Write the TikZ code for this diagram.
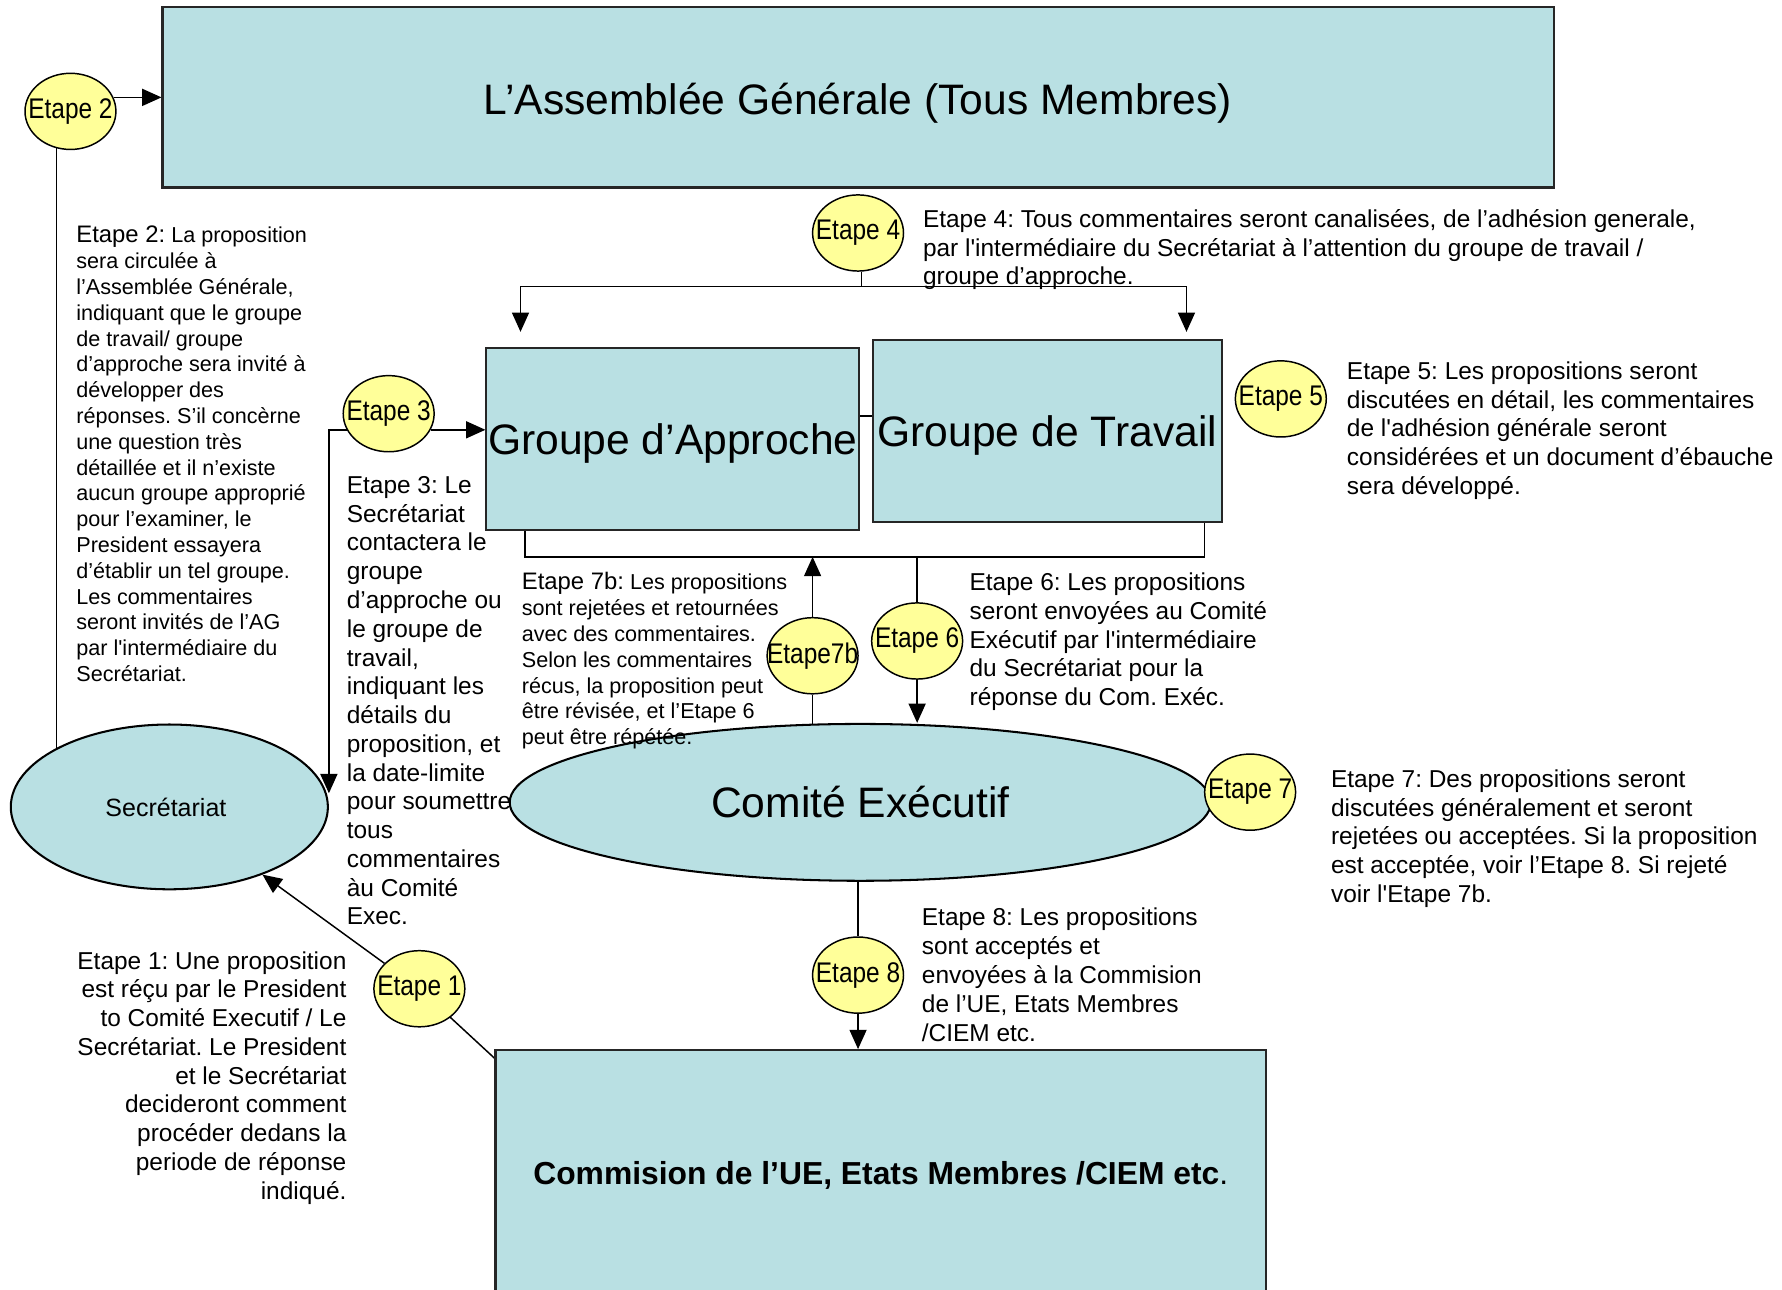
\documentclass[tikz,border=0pt]{standalone}
\usepackage{fontspec}
\setmainfont{Liberation Sans}
\newfontfamily\circfont[FakeStretch=0.86]{Liberation Sans}
\usetikzlibrary{shapes.geometric,arrows.meta}
\definecolor{boxblue}{RGB}{185,224,227}
\definecolor{stepyellow}{RGB}{255,255,153}
\newcommand{\apos}{\textquotesingle}
\frenchspacing
\pgfdeclarelayer{bg}
\pgfdeclarelayer{paper}
\pgfsetlayers{paper,bg,main}
\begin{document}
\begin{tikzpicture}[x=1pt,y=-1pt,
  bluebox/.style={rectangle, draw=black!85, line width=1.8pt, fill=boxblue, inner sep=0pt},
  blueell/.style={ellipse, draw=black, line width=1.8pt, fill=boxblue, inner sep=0pt},
  stepc/.style={ellipse, draw=black, line width=1.3pt, fill=stepyellow, minimum width=80pt, minimum height=67pt, inner xsep=-14pt, inner ysep=0pt, font=\circfont\fontsize{25}{25}\selectfont},
  con/.style={line width=1.3pt, draw=black},
  arr/.style={con, -{Triangle[length=17pt,width=15pt]}},
  body/.style={inner sep=0pt, align=left, font=\fontsize{21.5}{25.3}\selectfont},
  small/.style={inner sep=0pt, align=left, font=\fontsize{19}{22.7}\selectfont},
  big/.style={inner sep=0pt, font=\fontsize{37.5}{40}\selectfont}
]
\begin{pgfonlayer}{paper}
\fill[white] (0,0) rectangle (1568,1135);
\end{pgfonlayer}
\useasboundingbox (0,0) rectangle (1568,1135);

% main boxes and ellipses
\node[bluebox, minimum width=1224pt, minimum height=159pt] (ag) at (755,85.5) {};
\node[big, anchor=base] (agt) at (755,101) {L’Assemblée Générale (Tous Membres)};

\node[blueell, minimum width=279pt, minimum height=145pt] (sec) at (149,710) {};
\node[inner sep=0pt, anchor=base, font=\fontsize{22}{24}\selectfont] (sect) at (146,718) {Secrétariat};

\node[bluebox, minimum width=328pt, minimum height=160pt] (ga) at (592,386) {};
\node[big, anchor=base] (gat) at (592,400) {Groupe d’Approche};

\node[bluebox, minimum width=307pt, minimum height=160pt] (gt) at (921.5,379) {};
\node[big, anchor=base] (gtt) at (921.5,393) {Groupe de Travail};

\node[blueell, minimum width=617pt, minimum height=138pt] (ce) at (757,706) {};
\node[big, anchor=base] (cet) at (757,719.5) {Comité Exécutif};

\node[bluebox, minimum width=678pt, minimum height=236pt] (com) at (775,1042) {};
\node[inner sep=0pt, anchor=base, font=\fontsize{28}{30}\selectfont] (comt) at (775,1042) {{\bfseries Commision de l’UE, Etats Membres /CIEM etc}.};

% step circles
\node[stepc] (e2) at (62,98) {Etape 2};
\node[stepc] (e3) at (342,364) {Etape 3};
\node[stepc] (e4) at (755,205) {Etape 4};
\node[stepc] (e5) at (1127,351) {Etape 5};
\node[stepc] (e7b) at (715,577) {Etape7b};
\node[stepc] (e6) at (807,564) {Etape 6};
\node[stepc] (e7) at (1100,697) {Etape 7};
\node[stepc] (e8) at (755,858) {Etape 8};
\node[stepc] (e1) at (369,870) {Etape 1};

% texts
\node[small, anchor=north west] (t2) at (67,198.8) {{\fontsize{21}{22.7}\selectfont Etape 2:} La proposition\\sera circulée à\\l’Assemblée Générale,\\indiquant que le groupe\\de travail/ groupe\\d’approche sera invité à\\développer des\\réponses. S’il concèrne\\une question très\\détaillée et il n’existe\\aucun groupe approprié\\pour l’examiner, le\\President essayera\\d’établir un tel groupe.\\Les commentaires\\seront invités de l’AG\\par l\apos intermédiaire du\\Secrétariat.};

\node[body, anchor=north west] (t3) at (305,419) {Etape 3: Le\\Secrétariat\\contactera le\\groupe\\d’approche ou\\le groupe de\\travail,\\indiquant les\\détails du\\proposition, et\\la date-limite\\pour soumettre\\tous\\commentaires\\àu Comité\\Exec.};

\node[body, anchor=north west] (t4) at (812,184) {Etape 4: Tous commentaires seront canalisées, de l’adhésion generale,\\par l\apos intermédiaire du Secrétariat à l’attention du groupe de travail /\\groupe d’approche.};

\node[body, anchor=north west] (t5) at (1185,318) {Etape 5: Les propositions seront\\discutées en détail, les commentaires\\de l\apos adhésion générale seront\\considérées et un document d’ébauche\\sera développé.};

\node[small, anchor=north west] (t7b) at (459,503.7) {{\fontsize{21}{22.7}\selectfont Etape 7b:} Les propositions\\sont rejetées et retournées\\avec des commentaires.\\Selon les commentaires\\récus, la proposition peut\\être révisée, et l’Etape 6\\peut être répétée.};

\node[body, anchor=north west] (t6) at (853,504) {Etape 6: Les propositions\\seront envoyées au Comité\\Exécutif par l\apos intermédiaire\\du Secrétariat pour la\\réponse du Com. Exéc.};

\node[body, anchor=north west] (t7) at (1171,677) {Etape 7: Des propositions seront\\discutées généralement et seront\\rejetées ou acceptées. Si la proposition\\est acceptée, voir l’Etape 8. Si rejeté\\voir l\apos Etape 7b.};

\node[body, anchor=north west] (t8) at (811,799) {Etape 8: Les propositions\\sont acceptés et\\envoyées à la Commision\\de l’UE, Etats Membres\\/CIEM etc.};

\node[body, align=right, anchor=north east] (t1) at (305,837) {Etape 1: Une proposition\\est réçu par le President\\to Comité Executif / Le\\Secrétariat. Le President\\et le Secrétariat\\decideront comment\\procéder dedans la\\periode de réponse\\indiqué.};

% connectors
\coordinate (j4) at (758,252);
\coordinate (t4a) at (458,292);
\coordinate (t4b) at (1044,292);
\coordinate (bL) at (462,490);
\coordinate (bR) at (1060,490);
\begin{pgfonlayer}{bg}
\draw[arr] (e2.18) -- (e2.18 -| ag.west);
\draw[con] (e2.249) -- (e2.249 |- sec.center);
\draw[arr] (e3.201) -| ([yshift=12pt]sec.east);
\draw[arr] (e3.339) -- (e3.339 -| ga.west);
\draw[con] (e4.south -| j4) -- (j4);
\draw[arr] (j4) -| (t4a);
\draw[arr] (j4) -| (t4b);
\draw[con] (ga.east |- 0,366) -- (gt.west |- 0,366);
\draw[con] (ga.south -| bL) -- (bL) -- (bR) -- (gt.south -| bR);
\draw[arr] (e7b.north) -- (e7b.north |- bR);
\draw[con] (e7b.south) -- (e7b.south |- ce.center);
\draw[con] (e6.north |- bR) -- (e6.north);
\draw[arr] (e6.south) -- (e6.south |- ce.north);
\draw[con] (e8.north |- ce.center) -- (e8.north);
\draw[arr] (e8.south) -- (e8.south |- com.north);
\draw[con] ([yshift=-8pt]com.north west) -- (e1.center);
\draw[arr] (e1) -- (sec);
\end{pgfonlayer}
\end{tikzpicture}
\end{document}
